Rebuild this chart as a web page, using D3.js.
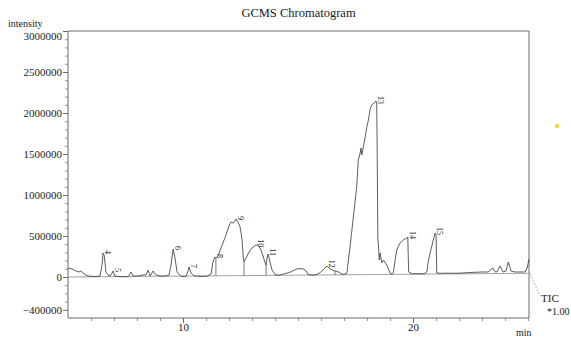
<!DOCTYPE html>
<html>
<head>
<meta charset="utf-8">
<script src="https://cdn.jsdelivr.net/npm/d3@7/dist/d3.min.js"></script>
<style>
  body { margin: 0; background: #fff; }
  svg { display: block; }
  svg text { font-family: "Liberation Serif", "Times New Roman", "DejaVu Serif", serif; }
</style>
</head>
<body>
<svg id="chart" width="571" height="338"></svg>
<script>
// TIC trace: [retention time (min), intensity]
const tic = [
  [5.00,110000],[5.17,98000],[5.35,73000],[5.48,61000],[5.57,73000],[5.70,37000],[5.87,12000],
  [6.17,5000],[6.39,12000],[6.48,146000],[6.52,293000],[6.57,268000],[6.65,61000],[6.78,12000],
  [6.87,24000],[6.96,73000],[7.04,12000],[7.26,4000],[7.61,4000],[7.74,61000],[7.83,12000],
  [8.04,12000],[8.22,24000],[8.39,24000],[8.48,85000],[8.57,12000],[8.70,73000],[8.83,24000],
  [9.00,12000],[9.22,12000],[9.39,24000],[9.48,146000],[9.57,341000],[9.65,232000],[9.74,61000],
  [9.91,8000],[10.13,8000],[10.22,73000],[10.26,122000],[10.35,49000],[10.48,12000],[10.74,8000],
  [11.04,8000],[11.22,37000],[11.30,183000],[11.39,244000],[11.43,232000],[11.52,256000],
  [11.70,390000],[11.87,512000],[12.00,622000],[12.09,671000],[12.17,659000],[12.26,683000],
  [12.30,707000],[12.39,671000],[12.48,610000],[12.57,451000],[12.61,268000],[12.65,183000],
  [12.74,232000],[12.87,305000],[13.04,366000],[13.17,390000],[13.26,390000],[13.39,329000],
  [13.48,256000],[13.57,171000],[13.61,146000],[13.65,232000],[13.70,280000],[13.78,183000],
  [13.87,85000],[14.00,30000],[14.17,22000],[14.43,40000],[14.70,64000],[14.96,100000],
  [15.22,100000],[15.35,76000],[15.43,32000],[15.61,22000],[15.78,26000],[15.96,52000],
  [16.13,100000],[16.26,134000],[16.39,100000],[16.57,76000],[16.74,64000],[16.91,34000],
  [17.09,37000],[17.13,61000],[17.26,366000],[17.39,695000],[17.55,1098000],[17.62,1427000],
  [17.70,1512000],[17.74,1573000],[17.77,1488000],[17.84,1585000],[17.91,1695000],[17.99,1829000],
  [18.06,1915000],[18.13,2037000],[18.20,2098000],[18.35,2134000],[18.39,2146000],[18.42,2122000],
  [18.44,1549000],[18.47,451000],[18.49,427000],[18.53,207000],[18.57,293000],[18.64,171000],
  [18.71,207000],[18.86,146000],[19.00,49000],[19.09,37000],[19.14,49000],[19.22,207000],
  [19.29,329000],[19.43,415000],[19.58,451000],[19.73,476000],[19.77,488000],[19.79,268000],
  [19.81,61000],[19.96,40000],[20.30,40000],[20.48,40000],[20.60,61000],[20.67,207000],
  [20.74,293000],[20.88,451000],[20.96,537000],[21.00,512000],[21.02,207000],[21.03,49000],
  [21.17,45000],[21.47,47000],[21.83,45000],[22.17,49000],[22.48,55000],[23.04,61000],
  [23.26,61000],[23.47,110000],[23.57,61000],[23.65,61000],[23.78,134000],[23.91,61000],
  [24.04,73000],[24.14,183000],[24.26,73000],[24.43,61000],[24.65,61000],[24.87,61000],
  [24.96,110000],[25.04,220000]
];

// integration baseline and peak split lines
const baseline = [[5.00, 0], [25.04, 45000]];
const dropLines = [[11.43, 232000], [12.65, 183000], [13.61, 146000], [16.61, 72000]];

// peak numbers: [label, time, intensity]
const peakLabels = [
  ["4", 6.52, 293000], ["5", 6.96, 73000], ["6", 9.57, 341000], ["7", 10.26, 122000],
  ["8", 11.39, 244000], ["9", 12.30, 707000], ["10", 13.17, 400000], ["11", 13.70, 290000],
  ["12", 16.26, 150000], ["13", 18.39, 2146000], ["14", 19.77, 500000], ["15", 20.96, 550000]
];

const yMajor = [-400000, 0, 500000, 1000000, 1500000, 2000000, 2500000, 3000000];
const xMajor = [10, 20];

const svg = d3.select("#chart");
const m = { left: 68, right: 529, top: 31, bottom: 318 };

const x = d3.scaleLinear().domain([5, 25.04]).range([m.left, m.right]);
const y = d3.scaleLinear().domain([-500000, 3000000]).range([m.bottom, m.top]);

const axisColor = "#6a6a6a";
const textColor = "#1a1a1a";

// minor ticks
const yMinor = d3.range(-400000, 3000001, 100000).filter(v => !yMajor.includes(v));
const xMinor = d3.range(6, 26, 1).filter(v => v <= 25 && !xMajor.includes(v));

const yAxis = svg.append("g").attr("transform", `translate(${m.left},0)`)
  .call(d3.axisLeft(y).tickValues(yMajor).tickSize(5).tickSizeOuter(0).tickPadding(1)
    .tickFormat(d3.format("d")))
  .attr("font-family", null).attr("font-size", null);
yAxis.select(".domain").remove();
yAxis.selectAll("line").attr("stroke", axisColor);
yAxis.selectAll("text").style("font-size", "11px").attr("fill", textColor)
  .attr("dy", d => d === 3000000 ? "0.75em" : "0.32em");

svg.append("g").attr("transform", `translate(${m.left},0)`)
  .call(d3.axisLeft(y).tickValues(yMinor).tickSize(3).tickSizeOuter(0).tickFormat(""))
  .call(g => g.select(".domain").remove())
  .selectAll("line").attr("stroke", axisColor).attr("stroke-width", 0.7);

const xAxis = svg.append("g").attr("transform", `translate(0,${m.bottom})`)
  .call(d3.axisBottom(x).tickValues(xMajor).tickSize(5).tickSizeOuter(0).tickPadding(0)
    .tickFormat(d3.format("d")))
  .attr("font-family", null).attr("font-size", null);
xAxis.select(".domain").remove();
xAxis.selectAll("line").attr("stroke", axisColor);
xAxis.selectAll("text").style("font-size", "11px").attr("fill", textColor);

svg.append("g").attr("transform", `translate(0,${m.bottom})`)
  .call(d3.axisBottom(x).tickValues(xMinor).tickSize(3).tickSizeOuter(0).tickFormat(""))
  .call(g => g.select(".domain").remove())
  .selectAll("line").attr("stroke", axisColor).attr("stroke-width", 0.7);

// frame: left, bottom, top, right
const frame = svg.append("g").attr("stroke", axisColor).attr("stroke-width", 1).attr("fill", "none");
frame.append("path").attr("d", `M${m.left},${m.top}V${m.bottom}H${m.right}V${m.top}H${m.left}`);

// baseline
const line = d3.line().x(d => x(d[0])).y(d => y(d[1]));
svg.append("path").datum(baseline).attr("d", line)
  .attr("fill", "none").attr("stroke", "#8a8a8a").attr("stroke-width", 0.8);

// split lines
const base = t => baseline[0][1] + (baseline[1][1] - baseline[0][1]) * (t - baseline[0][0]) / (baseline[1][0] - baseline[0][0]);
svg.append("g").selectAll("line").data(dropLines).join("line")
  .attr("x1", d => x(d[0])).attr("x2", d => x(d[0]))
  .attr("y1", d => y(d[1])).attr("y2", d => y(base(d[0])))
  .attr("stroke", "#555").attr("stroke-width", 0.8);

// trace
svg.append("path").datum(tic).attr("d", line)
  .attr("fill", "none").attr("stroke", "#404040").attr("stroke-width", 0.85)
  .attr("stroke-linejoin", "round");

// peak numbers
svg.append("g").selectAll("text").data(peakLabels).join("text")
  .attr("transform", d => `translate(${x(d[1]) + 2},${y(d[2]) - 1}) rotate(90)`)
  .attr("text-anchor", "middle")
  .style("font-size", "8px").attr("fill", textColor)
  .text(d => d[0]);

// title and axis names
svg.append("text").attr("x", (m.left + m.right) / 2).attr("y", 17).attr("text-anchor", "middle")
  .style("font-size", "12.5px").attr("fill", textColor).text("GCMS Chromatogram");
svg.append("text").attr("x", 8).attr("y", 27)
  .style("font-size", "10px").attr("fill", textColor).text("intensity");
svg.append("text").attr("x", 516).attr("y", 336)
  .style("font-size", "10px").attr("fill", textColor).text("min");

// TIC marker
const endPt = baseline[1];
svg.append("line")
  .attr("x1", x(endPt[0]) + 1).attr("y1", y(endPt[1]))
  .attr("x2", m.right + 11).attr("y2", 296)
  .attr("stroke", "#999").attr("stroke-width", 0.8).attr("stroke-dasharray", "2,1.5");
svg.append("text").attr("x", m.right + 12).attr("y", 302)
  .style("font-size", "11px").attr("fill", textColor).text("TIC");
svg.append("text").attr("x", m.right + 18).attr("y", 315)
  .style("font-size", "10px").attr("fill", textColor).text("*1.00");

// small yellow speck in the scan
svg.append("circle").attr("cx", 557).attr("cy", 126).attr("r", 2.3).attr("fill", "#f2dc3c");
</script>
</body>
</html>
